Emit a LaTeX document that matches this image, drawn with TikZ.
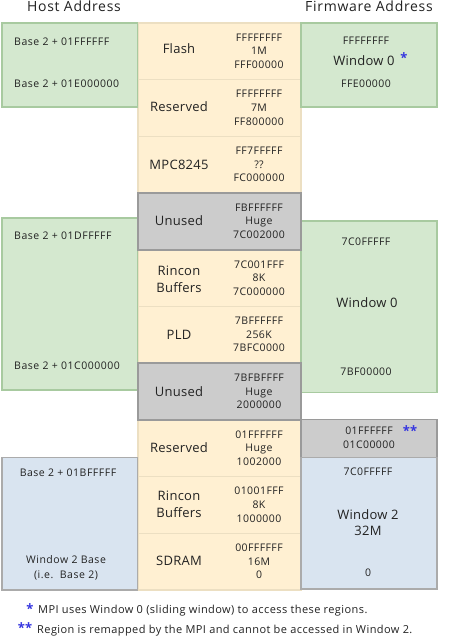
\documentclass[tikz,border=0pt]{standalone}
\usepackage{fontspec}
\setmainfont{Open Sans}
\definecolor{grfill}{HTML}{D4E8CF}
\definecolor{grline}{HTML}{A8CAA0}
\definecolor{yefill}{HTML}{FFF0D2}
\definecolor{yeline}{HTML}{ECDFC2}
\definecolor{gyfill}{HTML}{CCCCCC}
\definecolor{gyline}{HTML}{9A9A9A}
\definecolor{blfill}{HTML}{D9E4F0}
\definecolor{blline}{HTML}{ABABAB}
\definecolor{starblue}{HTML}{3535E0}
\definecolor{txt}{HTML}{222222}
\tikzset{
  boxbase/.style={anchor=north west, inner sep=0pt, outer sep=0pt, line width=1.3pt},
  yelbox/.style={boxbase, fill=yefill, draw=yeline},
  grybox/.style={boxbase, fill=gyfill, draw=gyline, line width=1.5pt},
  grnbox/.style={boxbase, fill=grfill, draw=grline},
  blubox/.style={boxbase, fill=blfill, draw=blline},
  lbltxt/.style={inner sep=0pt, text=txt, text height=0.71em, text depth=0pt},
  smalltxt/.style={lbltxt, font=\fontsize{10.5}{12}\selectfont\addfontfeatures{LetterSpace=5}},
  addrtxt/.style={lbltxt, font=\fontsize{10.5}{12}\selectfont\addfontfeatures{LetterSpace=4}},
  regtxt/.style={lbltxt, font=\fontsize{13}{15}\selectfont\addfontfeatures{LetterSpace=2}},
  headtxt/.style={lbltxt, font=\fontsize{14}{17}\selectfont\addfontfeatures{LetterSpace=5}},
  notetxt/.style={lbltxt, font=\fontsize{11}{13}\selectfont\addfontfeatures{LetterSpace=3.8}, anchor=west},
  startxt/.style={inner sep=0pt, text=starblue, font=\fontsize{13}{13}\selectfont\bfseries}
}
\begin{document}
\begin{tikzpicture}[x=1pt,y=-1pt]
\path[use as bounding box, fill=white] (0,0) rectangle (459,642);

% centre column cells
\node[yelbox, minimum width=163pt, minimum height=56.7pt] (c1) at (138,23) {};
\node[yelbox, minimum width=163pt, minimum height=56.7pt] (c2) at (138,79.7) {};
\node[yelbox, minimum width=163pt, minimum height=56.7pt] (c3) at (138,136.4) {};
\node[yelbox, minimum width=163pt, minimum height=56.7pt] (c5) at (138,249.8) {};
\node[yelbox, minimum width=163pt, minimum height=56.7pt] (c6) at (138,306.5) {};
\node[yelbox, minimum width=163pt, minimum height=56.7pt] (c8) at (138,419.9) {};
\node[yelbox, minimum width=163pt, minimum height=56.7pt] (c9) at (138,476.6) {};
\node[yelbox, minimum width=163pt, minimum height=56.7pt] (c10) at (138,533.3) {};

% side boxes
\node[grnbox, minimum width=135.5pt, minimum height=84pt] (hg1) at (2,23) {};
\node[grnbox, minimum width=135.5pt, minimum height=172pt] (hg2) at (2,218) {};
\node[blubox, minimum width=135.5pt, minimum height=132.3pt] (hb) at (2,457.7) {};
\node[grnbox, minimum width=136pt, minimum height=84pt] (fg1) at (301,23) {};
\node[grnbox, minimum width=136pt, minimum height=171.7pt] (fg2) at (301,221) {};
\node[grybox, minimum width=136pt, minimum height=38.2pt] (fgy) at (301,419.5) {};
\node[blubox, minimum width=136pt, minimum height=131.3pt] (fb) at (301,457.7) {};

% grey centre cells on top
\node[grybox, minimum width=163pt, minimum height=56.7pt] (c4) at (138,193.1) {};
\node[grybox, minimum width=163pt, minimum height=56.7pt] (c7) at (138,363.2) {};

% headers
\node[headtxt] (hh) at (74,8) {Host Address};
\node[headtxt] (fh) at (369,8) {Firmware Address};

% host address labels
\node[smalltxt, anchor=west] (h1) at (14,42) {Base 2 + 01FFFFFF};
\node[smalltxt, anchor=west] (h2) at (14,84) {Base 2 + 01E000000};
\node[smalltxt, anchor=west] (h3) at (14,235.7) {Base 2 + 01DFFFFF};
\node[smalltxt, anchor=west] (h4) at (14,366) {Base 2 + 01C000000};
\node[smalltxt] (h5) at (68,472.7) {Base 2 + 01BFFFFF};
\node[smalltxt] (h6) at (66,560) {Window 2 Base};
\node[smalltxt] (h7) at (66,574.7) {(i.e.\ \ Base 2)};

% region names
\node[regtxt] (n1) at (179,50) {Flash};
\node[regtxt] (n2) at (179,108) {Reserved};
\node[regtxt] (n3) at (179,166) {MPC8245};
\node[regtxt] (n4) at (179,222) {Unused};
\node[regtxt] (n5a) at (179,272) {Rincon};
\node[regtxt] (n5b) at (179,289) {Buffers};
\node[regtxt] (n6) at (179,335.7) {PLD};
\node[regtxt] (n7) at (179,392.7) {Unused};
\node[regtxt] (n8) at (179,449) {Reserved};
\node[regtxt] (n9a) at (179,497) {Rincon};
\node[regtxt] (n9b) at (179,514) {Buffers};
\node[regtxt] (n10) at (179,562) {SDRAM};

% region addresses
\foreach \yc/\a/\b/\c [count=\i] in {
  51.3/FFFFFFFF/1M/FFF00000,
  108/FFFFFFFF/7M/FF800000,
  164.7/FF7FFFFF/??/FC000000,
  221.4/FBFFFFFF/Huge/7C002000,
  278.1/7C001FFF/8K/7C000000,
  334.8/7BFFFFFF/256K/7BFC0000,
  391.5/7BFBFFFF/Huge/2000000,
  448.2/01FFFFFF/Huge/1002000,
  504.9/01001FFF/8K/1000000,
  561.6/00FFFFFF/16M/0}{
  \node[addrtxt] (a\i t) at (259,\yc-13.6) {\a};
  \node[addrtxt] (a\i m) at (259,\yc) {\b};
  \node[addrtxt] (a\i b) at (259,\yc+13.6) {\c};
}

% firmware address labels
\node[addrtxt] (f1) at (366,41) {FFFFFFFF};
\node[regtxt] (f2) at (364,62) {Window 0};
\node[startxt] (s1) at (404,58) {*};
\node[addrtxt] (f3) at (366,84) {FFE00000};
\node[addrtxt] (f4) at (366,241.7) {7C0FFFFF};
\node[regtxt] (f5) at (367,304) {Window 0};
\node[addrtxt] (f6) at (366,371.7) {7BF00000};
\node[addrtxt] (f7) at (369,430.7) {01FFFFFF};
\node[startxt] (s2) at (410,431) {**};
\node[addrtxt] (f8) at (369,445) {01C00000};
\node[addrtxt] (f9) at (368,471.7) {7C0FFFFF};
\node[regtxt] (f10) at (368,515.7) {Window 2};
\node[regtxt] (f11) at (368,532) {32M};
\node[addrtxt] (f12) at (368,573) {0};

% footnotes
\node[startxt] (s3) at (30,609) {*};
\node[notetxt] (t1) at (38,610) {MPI uses Window 0 (sliding window) to access these regions.};
\node[startxt] (s4) at (25,628) {**};
\node[notetxt] (t2) at (37,630) {Region is remapped by the MPI and cannot be accessed in Window 2.};
\end{tikzpicture}
\end{document}
